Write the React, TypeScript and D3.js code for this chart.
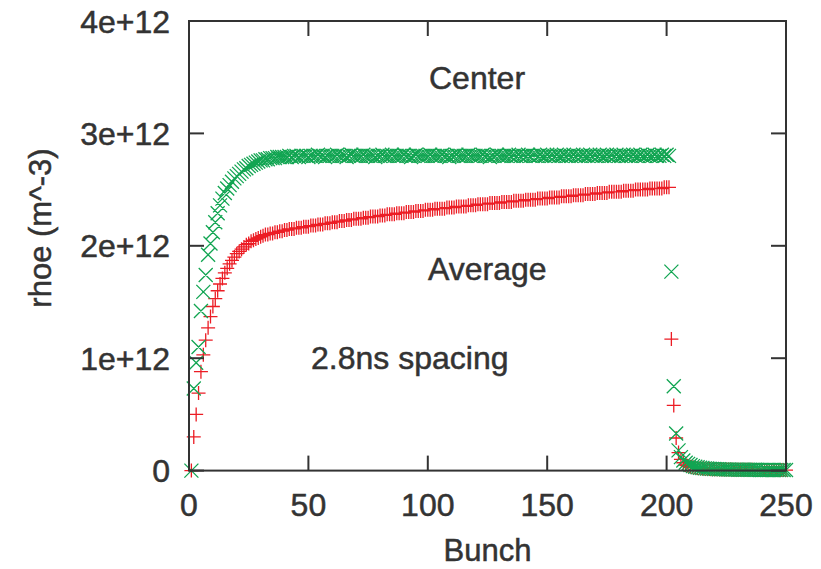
import * as d3 from 'd3';

// rhoe in units of 1e12 m^-3, one value per bunch (bunch 1 .. 250)
const CENTER_TRAIN = [
  0, 0.73, 0.96, 1.10, 1.42, 1.59, 1.74, 1.92, 2.02, 2.12,
  2.21, 2.29, 2.36, 2.42, 2.47, 2.51, 2.54, 2.57, 2.60, 2.62,
  2.64, 2.66, 2.68, 2.69, 2.71, 2.72, 2.73, 2.74, 2.75, 2.76,
  2.76, 2.77, 2.77, 2.78, 2.78, 2.78, 2.79, 2.79, 2.79, 2.79,
  2.79, 2.80, 2.79, 2.80, 2.80, 2.79, 2.80, 2.80, 2.80, 2.79,
  2.80, 2.80, 2.80, 2.81, 2.80, 2.80, 2.79, 2.80, 2.80, 2.80,
  2.80, 2.81, 2.80, 2.80, 2.80, 2.79, 2.80, 2.81, 2.80, 2.80,
  2.80, 2.80, 2.81, 2.80, 2.80, 2.80, 2.80, 2.79, 2.80, 2.80,
  2.81, 2.80, 2.80, 2.80, 2.81, 2.80, 2.80, 2.80, 2.80, 2.81,
  2.80, 2.80, 2.79, 2.80, 2.81, 2.80, 2.80, 2.80, 2.80, 2.80,
  2.81, 2.80, 2.80, 2.80, 2.80, 2.81, 2.80, 2.80, 2.79, 2.80,
  2.80, 2.81, 2.80, 2.80, 2.80, 2.80, 2.81, 2.80, 2.80, 2.80,
  2.80, 2.80, 2.81, 2.80, 2.80, 2.79, 2.80, 2.80, 2.81, 2.80,
  2.80, 2.80, 2.80, 2.81, 2.80, 2.80, 2.80, 2.81, 2.80, 2.80,
  2.80, 2.81, 2.80, 2.80, 2.80, 2.80, 2.81, 2.80, 2.80, 2.81,
  2.80, 2.80, 2.80, 2.81, 2.80, 2.80, 2.81, 2.80, 2.80, 2.80,
  2.81, 2.80, 2.80, 2.80, 2.81, 2.80, 2.80, 2.81, 2.80, 2.80,
  2.80, 2.81, 2.80, 2.80, 2.81, 2.80, 2.80, 2.80, 2.81, 2.80,
  2.80, 2.81, 2.80, 2.80, 2.80, 2.81, 2.80, 2.80, 2.81, 2.80,
  2.80, 2.81, 2.80, 2.80, 2.81, 2.80, 2.80, 2.81, 2.80, 2.81,
  2.80,
];
const CENTER_TAIL = [
  1.77, 0.75, 0.33, 0.18, 0.12, 0.09, 0.07, 0.06, 0.05,
  0.04, 0.035, 0.03, 0.026, 0.023, 0.02, 0.018, 0.016, 0.015, 0.014,
  0.013, 0.012, 0.011, 0.011, 0.010, 0.010, 0.009, 0.009, 0.009, 0.008,
  0.008, 0.008, 0.008, 0.007, 0.007, 0.007, 0.007, 0.007, 0.006, 0.006,
  0.006, 0.006, 0.006, 0.006, 0.006, 0.005, 0.005, 0.005, 0.005, 0.005,
];
const AVERAGE_TRAIN = [
  0, 0.30, 0.50, 0.69, 0.88, 1.03, 1.16, 1.27, 1.37, 1.46,
  1.53, 1.60, 1.66, 1.71, 1.76, 1.80, 1.84, 1.87, 1.90, 1.93,
  1.95, 1.97, 1.99, 2.01, 2.02, 2.04, 2.05, 2.06, 2.07, 2.08,
  2.09, 2.10, 2.10, 2.11, 2.11, 2.12, 2.12, 2.13, 2.13, 2.14,
  2.14, 2.15, 2.15, 2.15, 2.16, 2.16, 2.16, 2.17, 2.17, 2.17,
  2.18, 2.18, 2.18, 2.19, 2.19, 2.19, 2.20, 2.20, 2.20, 2.21,
  2.21, 2.21, 2.22, 2.22, 2.22, 2.23, 2.23, 2.23, 2.24, 2.24,
  2.24, 2.24, 2.25, 2.25, 2.25, 2.26, 2.26, 2.26, 2.26, 2.27,
  2.27, 2.27, 2.28, 2.28, 2.28, 2.28, 2.29, 2.29, 2.29, 2.29,
  2.30, 2.30, 2.30, 2.30, 2.31, 2.31, 2.31, 2.31, 2.32, 2.32,
  2.32, 2.32, 2.33, 2.33, 2.33, 2.33, 2.33, 2.34, 2.34, 2.34,
  2.34, 2.35, 2.35, 2.35, 2.35, 2.35, 2.36, 2.36, 2.36, 2.36,
  2.37, 2.37, 2.37, 2.37, 2.37, 2.38, 2.38, 2.38, 2.38, 2.38,
  2.39, 2.39, 2.39, 2.39, 2.39, 2.40, 2.40, 2.40, 2.40, 2.40,
  2.41, 2.41, 2.41, 2.41, 2.41, 2.42, 2.42, 2.42, 2.42, 2.42,
  2.43, 2.43, 2.43, 2.43, 2.43, 2.44, 2.44, 2.44, 2.44, 2.44,
  2.45, 2.45, 2.45, 2.45, 2.45, 2.46, 2.46, 2.46, 2.46, 2.46,
  2.47, 2.47, 2.47, 2.47, 2.47, 2.48, 2.48, 2.48, 2.48, 2.48,
  2.48, 2.49, 2.49, 2.49, 2.49, 2.49, 2.50, 2.50, 2.50, 2.50,
  2.50, 2.50, 2.51, 2.51, 2.51, 2.51, 2.51, 2.51, 2.52, 2.52,
  2.52,
];
const AVERAGE_TAIL = [
  1.17, 0.58, 0.29, 0.16, 0.10, 0.07, 0.05, 0.04, 0.035,
  0.03, 0.026, 0.023, 0.02, 0.018, 0.016, 0.015, 0.014, 0.013, 0.012,
  0.011, 0.011, 0.010, 0.010, 0.009, 0.009, 0.009, 0.008, 0.008, 0.008,
  0.008, 0.007, 0.007, 0.007, 0.007, 0.007, 0.006, 0.006, 0.006, 0.006,
  0.006, 0.006, 0.006, 0.005, 0.005, 0.005, 0.005, 0.005, 0.005, 0.005,
];
const CENTER = [...CENTER_TRAIN, ...CENTER_TAIL];
const AVERAGE = [...AVERAGE_TRAIN, ...AVERAGE_TAIL];
const FIRST_BUNCH = 1;

const X_TICKS = [0, 50, 100, 150, 200, 250];
const Y_TICKS = [0, 1, 2, 3, 4];
const Y_TICK_LABELS = ['0', '1e+12', '2e+12', '3e+12', '4e+12'];

const W = 821, H = 569;
const M = { left: 189, right: 35, top: 21, bottom: 98.4 };
const INK = '#333333';
const GREEN = '#12a552';
const RED = '#ec1c24';
const FONT = '"Liberation Sans", Arial, Helvetica, sans-serif';
const TICK = 15;
const S = 7;

export default function App() {
  const x = d3.scaleLinear().domain([0, 250]).range([M.left, W - M.right]);
  const y = d3.scaleLinear().domain([0, 4]).range([H - M.bottom, M.top]);
  const x0 = x.range()[0], x1 = x.range()[1], y0 = y.range()[0], y1 = y.range()[1];

  const avgPts = AVERAGE.map((v, i) => [x(FIRST_BUNCH + i), y(v)]);
  const cenPts = CENTER.map((v, i) => [x(FIRST_BUNCH + i), y(v)]);
  const plusPath = avgPts.map(([px, py]) => `M${px - S},${py}h${2 * S}M${px},${py - S}v${2 * S}`).join('');
  const crossPath = cenPts.map(([px, py]) => `M${px - S},${py - S}l${2 * S},${2 * S}M${px - S},${py + S}l${2 * S},${-2 * S}`).join('');

  // text gets a hairline stroke so it reads as heavy as the original render
  const txt = { fill: INK, stroke: INK, strokeWidth: 0.5 };

  return (
    <svg width={W} height={H} style={{ position: 'absolute', left: 0, top: 0, background: '#fff' }}
      fontFamily={FONT}>
      <rect width={W} height={H} fill="#fff" />
      <path d={plusPath} stroke={RED} strokeWidth={1.3} fill="none" />
      <path d={crossPath} stroke={GREEN} strokeWidth={1.3} fill="none" />

      {/* frame and mirrored inward ticks */}
      <rect x={x0} y={y1} width={x1 - x0} height={y0 - y1} fill="none" stroke={INK} strokeWidth={2} />
      {X_TICKS.map(t => (
        <g key={'x' + t}>
          <line x1={x(t)} x2={x(t)} y1={y0} y2={y0 - TICK} stroke={INK} strokeWidth={2} />
          <line x1={x(t)} x2={x(t)} y1={y1} y2={y1 + TICK} stroke={INK} strokeWidth={2} />
          <text x={x(t)} y={y0 + 45} textAnchor="middle" fontSize={32} {...txt}>{t}</text>
        </g>
      ))}
      {Y_TICKS.map((t, i) => (
        <g key={'y' + t}>
          <line x1={x0} x2={x0 + TICK} y1={y(t)} y2={y(t)} stroke={INK} strokeWidth={2} />
          <line x1={x1} x2={x1 - TICK} y1={y(t)} y2={y(t)} stroke={INK} strokeWidth={2} />
          <text x={170} y={y(t) + 11.5} textAnchor="end" fontSize={32} {...txt}>{Y_TICK_LABELS[i]}</text>
        </g>
      ))}

      <text x={(x0 + x1) / 2} y={561} textAnchor="middle" fontSize={31} {...txt}>Bunch</text>
      <text transform="translate(51,228) rotate(-90)" textAnchor="middle" fontSize={31} {...txt}>rhoe (m^-3)</text>

      <text x={429} y={89} fontSize={32} {...txt}>Center</text>
      <text x={428} y={280} fontSize={32} {...txt}>Average</text>
      <text x={311} y={369} fontSize={32} {...txt}>2.8ns spacing</text>
    </svg>
  );
}
